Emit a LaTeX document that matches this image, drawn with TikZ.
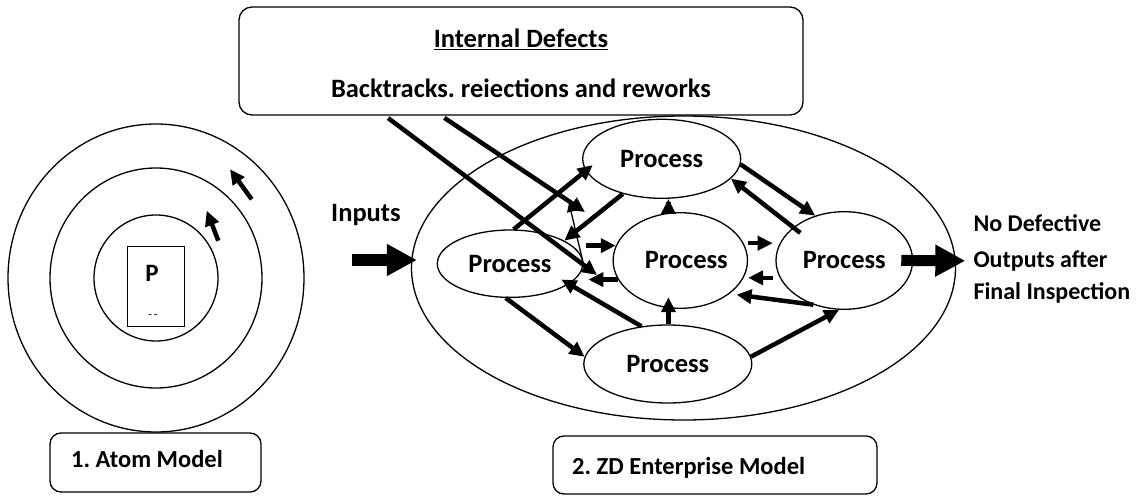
\documentclass[tikz,border=0pt]{standalone}
\usepackage{fontspec}
\setmainfont{Carlito}
\usetikzlibrary{shapes.geometric,arrows.meta}

\begin{document}
\begin{tikzpicture}[x=1pt,y=-1pt,
  font=\fontsize{26.5}{30}\selectfont\bfseries\frenchspacing,
  proc/.style={ellipse,draw,line width=1.3pt,inner sep=0pt},
  lbl/.style={draw,line width=1.3pt,rounded corners=11pt,inner sep=0pt},
  txt/.style={inner sep=0pt,anchor=base west},
  fat/.style={line width=4.5pt,-{Triangle[length=15pt,width=14pt]}},
  bigarrow/.style={line width=11pt,-{Triangle[length=30pt,width=30pt]}}]
  \useasboundingbox (0,0) rectangle (1138,497);

  % atom model
  \coordinate (nucleus) at (156,278);
  \foreach \rx/\ry in {62/63,106/110,148/154}
    \draw[line width=1.3pt] (nucleus) ellipse [x radius=\rx pt, y radius=\ry pt];
  \node[draw,line width=1.3pt,minimum width=56.6pt,minimum height=80pt,inner sep=0pt] (pbox) at (156,286.7) {};
  \node[font=\fontsize{25}{28}\selectfont\bfseries] (plab) at (152,273) {P};
  \node[font=\fontsize{12}{12}\selectfont,inner sep=0pt] (pdash) at (153,317) {-\,-};
  \coordinate (a1s) at (251.7,199.3); \coordinate (a1e) at (230,169.3);
  \coordinate (a2s) at (218.3,240.7); \coordinate (a2e) at (206.7,210.7);
  \draw[fat] (a1s) -- (a1e);
  \draw[fat] (a2s) -- (a2e);
  \node[lbl,minimum width=211pt,minimum height=59pt] (atombox) at (155.5,462.5) {};
  \node[txt,font=\fontsize{24.5}{28}\selectfont\bfseries\frenchspacing] (atomlab) at (71,467) {1. Atom Model};

  % enterprise model
  \node[lbl,rounded corners=13pt,minimum width=564pt,minimum height=108pt] (defects) at (521,61) {};
  \node[inner sep=0pt,anchor=base] (dtitle) at (521,48) {\underline{Internal Defects}};
  \node[inner sep=0pt,anchor=base] (dwhy) at (521,97.5) {Backtracks. reiections and reworks};

  \node[proc,minimum width=544pt,minimum height=304pt] (ent) at (683.5,268) {};
  \node[proc,minimum width=158pt,minimum height=79pt] (pt) at (661.7,158.8) {Process};
  \node[proc,minimum width=145.4pt,minimum height=67.4pt] (pl) at (510,263.7) {Process};
  \node[proc,minimum width=120.6pt,minimum height=95.6pt] (pm) at (680.3,260.5) {\hspace*{12pt}Process};
  \node[proc,minimum width=168pt,minimum height=78pt] (pb) at (667.8,364) {Process};
  \node[proc,minimum width=136.6pt,minimum height=97.6pt] (pr) at (844.3,260.5) {Process};

  \draw[fat,shorten >=-9pt] (pl.84) -- (pt.189);
  \draw[fat] (pt.222) -- (pl.23);
  \draw[fat] (pl.263) -- (pb.175);
  \draw[fat,shorten >=-9pt] (pb.125) -- (pl.341);
  \draw[fat,shorten <=3pt] (pl.east |- pm.167) -- (pm.167);
  \draw[fat,shorten >=5pt] (pm.197) -- (pl.east |- pm.197);
  \draw[fat,shorten <=-11pt] (pm.104) -- (pm.104 |- pt.south);
  \draw[fat,shorten >=-11pt] (pm.256 |- pb.north) -- (pm.256);
  \draw[fat,shorten >=7pt] (pm.east |- pr.165) -- (pr.165);
  \draw[fat,shorten <=7pt] (pr.195) -- (pr.195 -| pm.east);
  \draw[fat] (pt.356) -- (pr.123);
  \draw[fat,shorten <=-9pt] (pr.147) -- (pt.344);
  \draw[fat,shorten >=7pt] (pr.235) -- (pm.326);
  \draw[fat] (pb.5) -- (pr.264);

  % defects flowing back
  \coordinate (d1) at (597,275);
  \coordinate (d2) at (585,212);
  \coordinate (rw) at (569,203);
  \draw[fat,shorten <=4pt] ([xshift=146.6pt]defects.south west) -- (d1);
  \draw[fat,shorten <=4pt] ([xshift=202.7pt]defects.south west) -- (d2);
  \draw[line width=1.3pt,-{Triangle[length=9pt,width=8pt]}] (pl.east) -- (rw);

  % inputs and outputs
  \node[txt] (inputs) at (331,221.7) {Inputs};
  \coordinate (feed) at (352,260);
  \draw[bigarrow,shorten >=-6pt] (feed) -- (feed -| ent.west);
  \node[txt,font=\fontsize{24}{28}\selectfont\bfseries] (out1) at (973.3,231.7) {No Defective};
  \node[txt,font=\fontsize{24}{28}\selectfont\bfseries] (out2) at (973.3,267.3) {Outputs after};
  \node[txt,font=\fontsize{24}{28}\selectfont\bfseries] (out3) at (973.3,299) {Final Inspection};
  \draw[bigarrow,shorten <=-12pt,shorten >=8pt] (pr.east) -- (out2.west);

  \node[lbl,minimum width=324pt,minimum height=58pt] (zdbox) at (715,465) {};
  \node[txt,font=\fontsize{24.5}{28}\selectfont\bfseries\frenchspacing] (zdlab) at (572,474) {2. ZD Enterprise Model};
\end{tikzpicture}
\end{document}
